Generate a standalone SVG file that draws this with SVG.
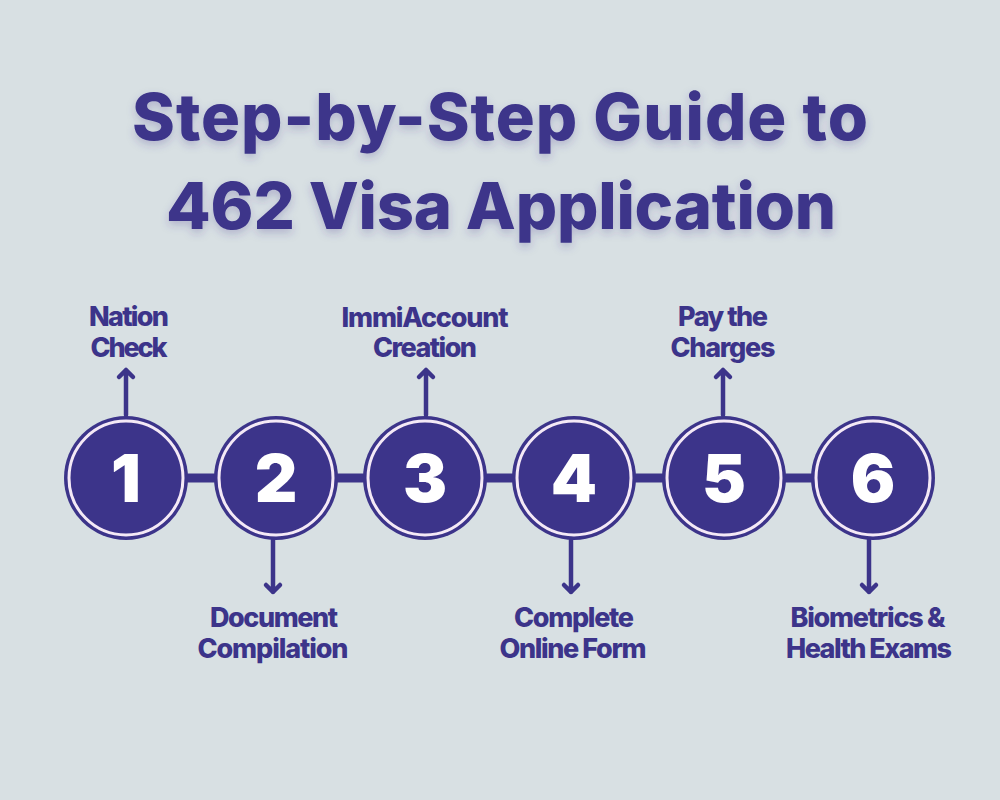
<svg xmlns="http://www.w3.org/2000/svg" width="1000" height="800" viewBox="0 0 1000 800">
<defs>
<style>
.bg{fill:#d8e0e3}
.title{font-family:Inter,"Liberation Sans",sans-serif;font-weight:800;font-size:65px;fill:#3c348a;text-anchor:middle}
.lbl{font-family:Inter,"Liberation Sans",sans-serif;font-weight:800;font-size:27px;fill:#3c348a;text-anchor:middle}
.num{font-family:Inter,"Liberation Sans",sans-serif;font-weight:900;font-size:66px;fill:#ffffff;text-anchor:middle}
.disc{fill:#3c348a}
.ring{fill:none;stroke:#f4e9f6;stroke-width:3}
.link{stroke:#3c348a;stroke-width:9;fill:none}
.arr{stroke:#3c348a;stroke-width:4.5;fill:none;stroke-linecap:round;stroke-linejoin:round}
</style>
<filter id="sh" x="-10%" y="-20%" width="120%" height="150%">
<feDropShadow dx="0" dy="4" stdDeviation="4" flood-color="#3c348a" flood-opacity="0.25"/>
</filter>
</defs>
<rect class="bg" x="0" y="0" width="1000" height="800"/>
<g id="title" filter="url(#sh)">
<text class="title" x="500" y="140" textLength="736">Step-by-Step Guide to</text>
<text class="title" x="501" y="229" textLength="670">462 Visa Application</text>
</g>
<g id="connectors">
<line class="link" x1="126" y1="478" x2="873" y2="478"/>
<path class="arr" d="M126 415 V370 M119 377 L126 370 L133 377"/>
<path class="arr" d="M273 540 V592 M266 585 L273 592 L280 585"/>
<path class="arr" d="M426 415 V370 M419 377 L426 370 L433 377"/>
<path class="arr" d="M571 540 V592 M564 585 L571 592 L578 585"/>
<path class="arr" d="M723 415 V370 M716 377 L723 370 L730 377"/>
<path class="arr" d="M869 540 V592 M862 585 L869 592 L876 585"/>
</g>
<g id="step1">
<circle class="disc" cx="126" cy="478" r="62"/><circle class="ring" cx="126" cy="478" r="57"/>
<text class="num" x="126" y="502">1</text>
<text class="lbl" x="129" y="326" textLength="80">Nation</text>
<text class="lbl" x="129" y="357" textLength="77">Check</text>
</g>
<g id="step2">
<circle class="disc" cx="276" cy="478" r="62"/><circle class="ring" cx="276" cy="478" r="57"/>
<text class="num" x="276" y="502">2</text>
<text class="lbl" x="274" y="627" textLength="128">Document</text>
<text class="lbl" x="273" y="658" textLength="151">Compilation</text>
</g>
<g id="step3">
<circle class="disc" cx="425" cy="478" r="62"/><circle class="ring" cx="425" cy="478" r="57"/>
<text class="num" x="425" y="502">3</text>
<text class="lbl" x="425" y="327" textLength="167">ImmiAccount</text>
<text class="lbl" x="425" y="357" textLength="104">Creation</text>
</g>
<g id="step4">
<circle class="disc" cx="574" cy="478" r="62"/><circle class="ring" cx="574" cy="478" r="57"/>
<text class="num" x="574" y="502">4</text>
<text class="lbl" x="574" y="627" textLength="120">Complete</text>
<text class="lbl" x="573" y="658" textLength="147">Online Form</text>
</g>
<g id="step5">
<circle class="disc" cx="724" cy="478" r="62"/><circle class="ring" cx="724" cy="478" r="57"/>
<text class="num" x="724" y="502">5</text>
<text class="lbl" x="723" y="326" textLength="90">Pay the</text>
<text class="lbl" x="723" y="357" textLength="105">Charges</text>
</g>
<g id="step6">
<circle class="disc" cx="873" cy="478" r="62"/><circle class="ring" cx="873" cy="478" r="57"/>
<text class="num" x="873" y="502">6</text>
<text class="lbl" x="868" y="627" textLength="155">Biometrics &amp;</text>
<text class="lbl" x="869" y="658" textLength="166">Health Exams</text>
</g>
</svg>
